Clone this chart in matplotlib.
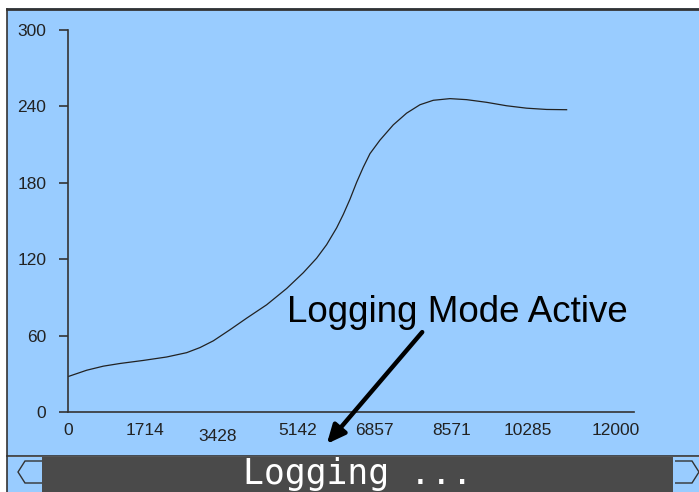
import matplotlib
matplotlib.use("Agg")
import matplotlib.pyplot as plt
from matplotlib.patches import Rectangle, Polygon
from matplotlib.lines import Line2D
import matplotlib.transforms as mtransforms

# values
iters = [0, 417, 790, 1162, 1683, 2205, 2652, 2950, 3248, 3620, 3993, 4440,
         4887, 5259, 5557, 5780, 6004, 6153, 6302, 6451, 6600, 6749, 6972,
         7270, 7568, 7866, 8164, 8536, 8909, 9356, 9803, 10250, 10697, 11144]
values = [27.8, 32.8, 36.0, 38.1, 40.5, 43.2, 46.6, 50.6, 55.9, 64.6, 73.7,
          84.2, 97.0, 109.4, 120.8, 131.4, 144.6, 155.2, 167.1, 180.4, 192.3,
          202.9, 213.5, 225.5, 234.7, 241.3, 244.8, 246.1, 245.3, 243.2,
          240.5, 238.6, 237.6, 237.4]
x_ticks = [0, 1714, 3428, 5142, 6857, 8571, 10285, 12000]
y_ticks = [0, 60, 120, 180, 240, 300]

W, H = 699, 492
BLUE = "#99ccff"
DARK = "#333333"
BAR = "#4a4a4a"


def fx(px):
    return px / W


def fy(py):
    return 1 - py / H


fig = plt.figure(figsize=(W / 100, H / 100), dpi=100)
fig.patch.set_facecolor("white")

# background panel and bottom status bar (kept below the axes)
bg = dict(transform=fig.transFigure, zorder=-5)
edge = dict(transform=fig.transFigure, zorder=-3)
fig.patches.append(Rectangle((fx(7), fy(456)), fx(699) - fx(7), fy(8) - fy(456),
                             facecolor=BLUE, edgecolor="none", **bg))
fig.patches.append(Rectangle((fx(7), 0), fx(699) - fx(7), fy(457),
                             facecolor=BLUE, edgecolor="none", **bg))
fig.patches.append(Rectangle((fx(42), 0), fx(673) - fx(42), fy(457),
                             facecolor=BAR, edgecolor="none", **bg))
fig.lines.append(Line2D([fx(7), fx(699)], [fy(9), fy(9)], color=DARK, lw=2, **edge))
fig.lines.append(Line2D([fx(7), fx(7)], [fy(9), 0], color=DARK, lw=1.2, **edge))
fig.lines.append(Line2D([fx(7), fx(699)], [fy(456), fy(456)], color=DARK, lw=1.2, **edge))
fig.patches.append(Polygon([(fx(42), fy(461)), (fx(25), fy(461)), (fx(18), fy(472)),
                            (fx(25), fy(483)), (fx(42), fy(483))], closed=False,
                           facecolor=BLUE, edgecolor=DARK, lw=1, **edge))
fig.patches.append(Polygon([(fx(675), fy(461)), (fx(692), fy(461)), (fx(699), fy(472)),
                            (fx(692), fy(483)), (fx(675), fy(483))], closed=False,
                           facecolor=BLUE, edgecolor=DARK, lw=1, **edge))
fig.text(fx(358), fy(474), "Logging ...", color="white", family="DejaVu Sans Mono",
         fontsize=25, ha="center", va="center")

ax = fig.add_axes([fx(68), fy(412), fx(634) - fx(68), fy(30) - fy(412)])
ax.patch.set_visible(False)
ax.plot(iters, values, color="#222222", lw=0.9)

ax.set_xlim(0, 12650)
ax.set_ylim(0, 300)
ax.set_xticks(x_ticks)
ax.set_xticklabels([str(t) for t in x_ticks])
ax.set_yticks(y_ticks)
ax.set_yticklabels([str(t) for t in y_ticks])
for s in ["top", "right"]:
    ax.spines[s].set_visible(False)
for s in ["left", "bottom"]:
    ax.spines[s].set_color(DARK)
    ax.spines[s].set_linewidth(1.2)
ax.tick_params(axis="y", length=6.5, width=1.2, color=DARK, pad=9,
               labelsize=12.5, labelcolor="#222222")
ax.tick_params(axis="x", length=0, pad=8, labelsize=12.5, labelcolor="#222222")
for lab in ax.get_xticklabels() + ax.get_yticklabels():
    lab.set_family("Liberation Sans")
# the 3428 label sits a little lower, 12000 a little to the right in the reference
xl = ax.get_xticklabels()
xl[2].set_transform(xl[2].get_transform() + mtransforms.ScaledTranslation(-3 / 72, -4 / 72, fig.dpi_scale_trans))
xl[7].set_transform(xl[7].get_transform() + mtransforms.ScaledTranslation(8 / 72, 0, fig.dpi_scale_trans))

ax.annotate("", xy=(fx(325), fy(446)), xytext=(fx(424), fy(330)),
            xycoords="figure fraction", textcoords="figure fraction",
            arrowprops=dict(arrowstyle="-|>,head_length=1.1,head_width=0.5",
                            color="black", lw=3.2))
fig.text(fx(457), fy(322), "Logging Mode Active", family="Liberation Sans",
         fontsize=26.5, color="black", ha="center", va="baseline")

fig.savefig("out.png", dpi=100)
